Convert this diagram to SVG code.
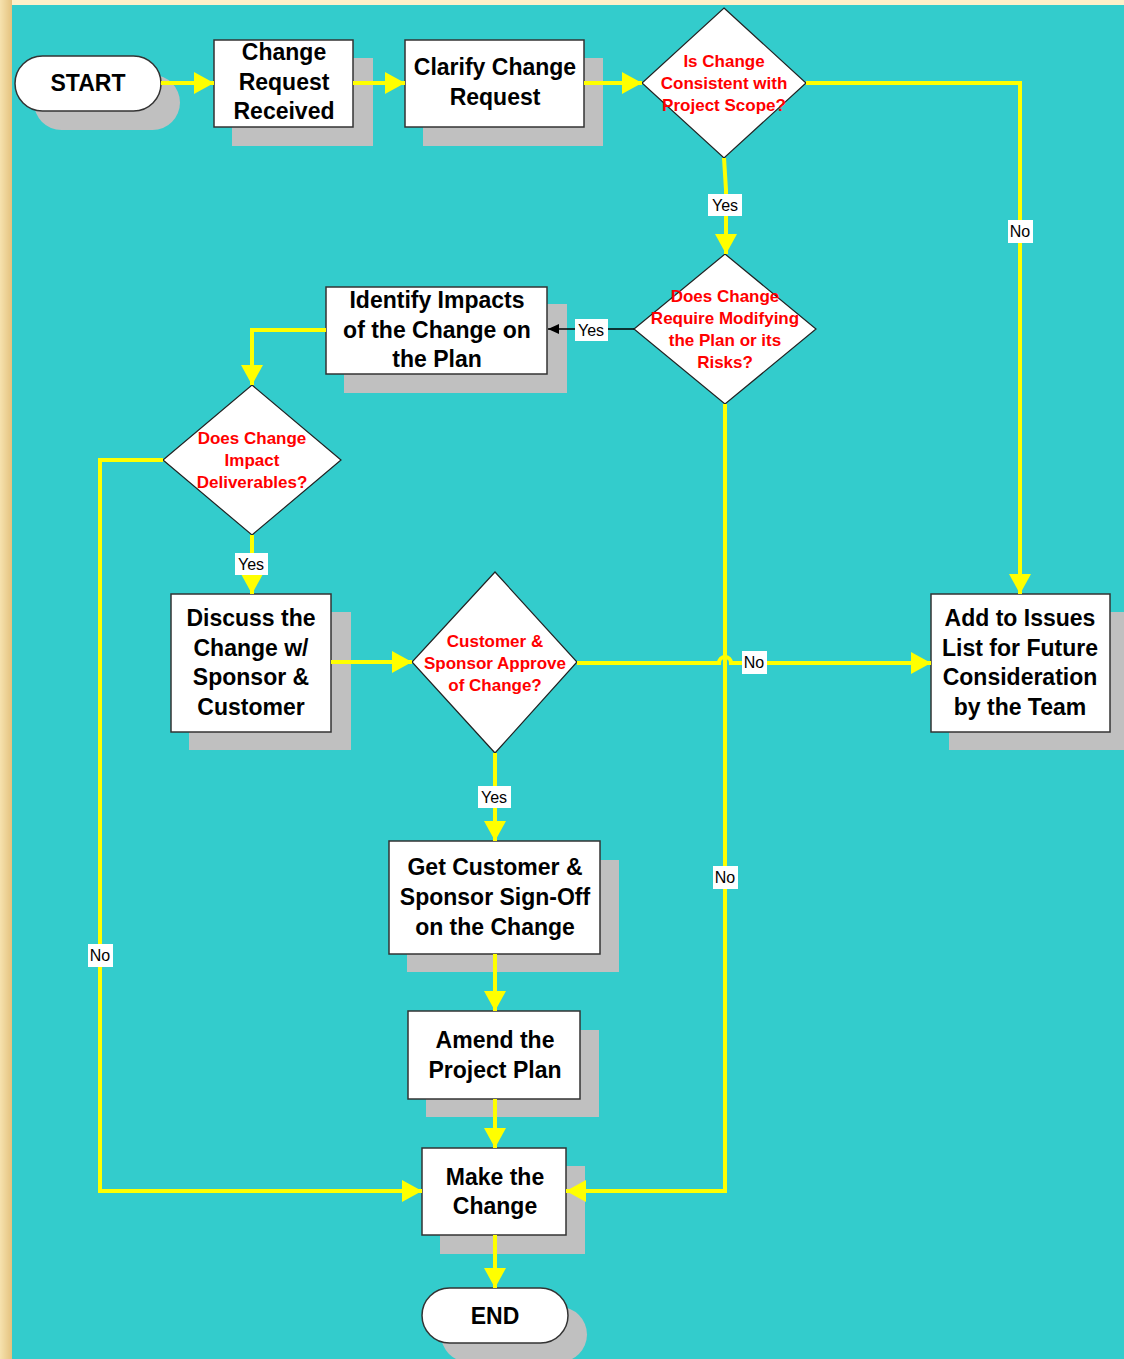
<svg xmlns="http://www.w3.org/2000/svg" width="1124" height="1359" viewBox="0 0 1124 1359">
<defs>
<linearGradient id="edge" x1="0" y1="0" x2="1" y2="0">
<stop offset="0" stop-color="#F6E2AE"/>
<stop offset="1" stop-color="#E4C27E"/>
</linearGradient>
<marker id="ya" markerUnits="userSpaceOnUse" markerWidth="22" markerHeight="24" refX="20" refY="11" orient="auto">
<path d="M0,0 L20,11 L0,22 Z" fill="#FFFF00"/>
</marker>
<marker id="ba" markerUnits="userSpaceOnUse" markerWidth="12" markerHeight="10" refX="11" refY="5" orient="auto">
<path d="M0,0 L11,5 L0,10 Z" fill="#000"/>
</marker>
<style>
.sh{fill:#C0C0C0}
.bx{fill:#fff;stroke:#333;stroke-width:1.5}
.dm{fill:#fff;stroke:#222;stroke-width:1.2}
.nt{font-family:"Liberation Sans",Arial,sans-serif;font-weight:bold;font-size:23px;fill:#000;text-anchor:middle}
.dt{font-family:"Liberation Sans",Arial,sans-serif;font-weight:bold;font-size:17px;fill:#FF0000;text-anchor:middle}
.c{fill:none;stroke:#FFFF00;stroke-width:4}
.ca{fill:none;stroke:#FFFF00;stroke-width:4;marker-end:url(#ya)}
.lb{fill:#fff}
.lt{font-family:"Liberation Sans",Arial,sans-serif;font-size:16px;fill:#000;text-anchor:middle}
</style>
</defs>
<rect x="0" y="0" width="1124" height="1359" fill="#FEF0C9"/>
<rect x="0" y="0" width="12" height="1359" fill="url(#edge)"/>
<rect x="12" y="5" width="1112" height="1354" fill="#33CCCC"/>

<g id="start">
<rect class="sh" x="34" y="75" width="146" height="55" rx="27.5"/>
<rect class="bx" x="15" y="56" width="146" height="55" rx="27.5"/>
<text class="nt" x="88" y="91">START</text>
</g>
<g id="change-request-received">
<rect class="sh" x="232" y="58" width="141" height="88"/>
<rect class="bx" x="214" y="40" width="139" height="87"/>
<text class="nt" x="284" y="60">Change</text>
<text class="nt" x="284" y="90">Request</text>
<text class="nt" x="284" y="119">Received</text>
</g>
<g id="clarify-change-request">
<rect class="sh" x="423" y="58" width="180" height="88"/>
<rect class="bx" x="405" y="40" width="179" height="87"/>
<text class="nt" x="495" y="75">Clarify Change</text>
<text class="nt" x="495" y="105">Request</text>
</g>
<g id="consistent-scope">
<polygon class="dm" points="724,8 806,83 724,158 642,83"/>
<text class="dt" x="724" y="67">Is Change</text>
<text class="dt" x="724" y="89">Consistent with</text>
<text class="dt" x="724" y="111">Project Scope?</text>
</g>
<g id="modify-plan">
<polygon class="dm" points="725,254 816,329 725,404 634,329"/>
<text class="dt" x="725" y="302">Does Change</text>
<text class="dt" x="725" y="324">Require Modifying</text>
<text class="dt" x="725" y="346">the Plan or its</text>
<text class="dt" x="725" y="368">Risks?</text>
</g>
<g id="identify-impacts">
<rect class="sh" x="344" y="304" width="223" height="89"/>
<rect class="bx" x="326" y="287" width="221" height="87"/>
<text class="nt" x="437" y="308">Identify Impacts</text>
<text class="nt" x="437" y="338">of the Change on</text>
<text class="nt" x="437" y="367">the Plan</text>
</g>
<g id="impact-deliverables">
<polygon class="dm" points="252,385 341,460 252,535 163,460"/>
<text class="dt" x="252" y="444">Does Change</text>
<text class="dt" x="252" y="466">Impact</text>
<text class="dt" x="252" y="488">Deliverables?</text>
</g>
<g id="discuss-change">
<rect class="sh" x="189" y="612" width="162" height="138"/>
<rect class="bx" x="171" y="594" width="160" height="138"/>
<text class="nt" x="251" y="626">Discuss the</text>
<text class="nt" x="251" y="656">Change w/</text>
<text class="nt" x="251" y="685">Sponsor &amp;</text>
<text class="nt" x="251" y="715">Customer</text>
</g>
<g id="sponsor-approve">
<polygon class="dm" points="495,572 577,662 495,753 412,662"/>
<text class="dt" x="495" y="647">Customer &amp;</text>
<text class="dt" x="495" y="669">Sponsor Approve</text>
<text class="dt" x="495" y="691">of Change?</text>
</g>
<g id="add-to-issues">
<rect class="sh" x="949" y="612" width="175" height="138"/>
<rect class="bx" x="931" y="594" width="179" height="138"/>
<text class="nt" x="1020" y="626">Add to Issues</text>
<text class="nt" x="1020" y="656">List for Future</text>
<text class="nt" x="1020" y="685">Consideration</text>
<text class="nt" x="1020" y="715">by the Team</text>
</g>
<g id="sign-off">
<rect class="sh" x="407" y="860" width="212" height="112"/>
<rect class="bx" x="389" y="841" width="211" height="113"/>
<text class="nt" x="495" y="875">Get Customer &amp;</text>
<text class="nt" x="495" y="905">Sponsor Sign-Off</text>
<text class="nt" x="495" y="935">on the Change</text>
</g>
<g id="amend-plan">
<rect class="sh" x="426" y="1030" width="173" height="87"/>
<rect class="bx" x="408" y="1011" width="172" height="88"/>
<text class="nt" x="495" y="1048">Amend the</text>
<text class="nt" x="495" y="1078">Project Plan</text>
</g>
<g id="make-change">
<rect class="sh" x="440" y="1166" width="145" height="88"/>
<rect class="bx" x="422" y="1148" width="144" height="87"/>
<text class="nt" x="495" y="1185">Make the</text>
<text class="nt" x="495" y="1214">Change</text>
</g>
<g id="end">
<rect class="sh" x="441" y="1307" width="146" height="55" rx="27.5"/>
<rect class="bx" x="422" y="1288" width="146" height="55" rx="27.5"/>
<text class="nt" x="495" y="1324">END</text>
</g>

<g id="connectors">
<line class="ca" x1="161" y1="83" x2="214" y2="83"/>
<line class="ca" x1="353" y1="83" x2="405" y2="83"/>
<line class="ca" x1="584" y1="83" x2="642" y2="83"/>
<polyline class="ca" points="806,83 1020,83 1020,594"/>
<polyline class="ca" points="724,158 726,190 726,254"/>
<line x1="634" y1="329" x2="548" y2="329" stroke="#000" stroke-width="1.5" marker-end="url(#ba)"/>
<polyline class="ca" points="326,330 252,330 252,385"/>
<line class="ca" x1="252" y1="535" x2="252" y2="594"/>
<polyline class="ca" points="163,460 100,460 100,1191 422,1191"/>
<line class="ca" x1="331" y1="662" x2="412" y2="662"/>
<path class="ca" d="M577,663 L719,663 A6,6 0 0 1 731,663 L931,663"/>
<polyline class="ca" points="725,404 725,1191 566,1191"/>
<line class="ca" x1="495" y1="753" x2="495" y2="841"/>
<line class="ca" x1="495" y1="954" x2="495" y2="1011"/>
<line class="ca" x1="495" y1="1099" x2="495" y2="1148"/>
<line class="ca" x1="495" y1="1235" x2="495" y2="1288"/>
<g id="labels">
<rect class="lb" x="708" y="194" width="34" height="22"/><text class="lt" x="725" y="211">Yes</text>
<rect class="lb" x="1008" y="220" width="25" height="23"/><text class="lt" x="1020" y="237">No</text>
<rect class="lb" x="575" y="319" width="33" height="22"/><text class="lt" x="591" y="336">Yes</text>
<rect class="lb" x="235" y="553" width="33" height="22"/><text class="lt" x="251" y="570">Yes</text>
<rect class="lb" x="742" y="651" width="25" height="23"/><text class="lt" x="754" y="668">No</text>
<rect class="lb" x="478" y="786" width="33" height="22"/><text class="lt" x="494" y="803">Yes</text>
<rect class="lb" x="713" y="866" width="25" height="23"/><text class="lt" x="725" y="883">No</text>
<rect class="lb" x="88" y="944" width="25" height="23"/><text class="lt" x="100" y="961">No</text>
</g>
</g>
</svg>
